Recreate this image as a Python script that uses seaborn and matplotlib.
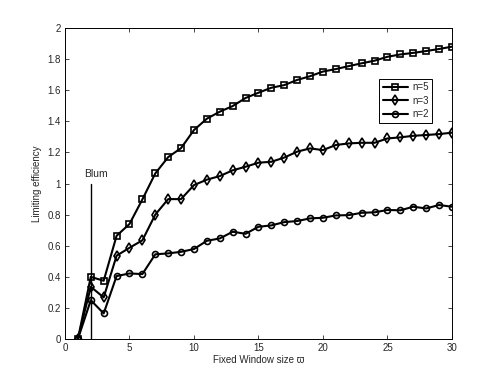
import matplotlib
matplotlib.use("Agg")
import matplotlib.pyplot as plt
import seaborn as sns
import pandas as pd

window = list(range(1, 31))
n5 = [0.0, 0.40, 0.375, 0.664, 0.74, 0.898, 1.065, 1.17, 1.228, 1.344,
      1.417, 1.462, 1.498, 1.55, 1.584, 1.616, 1.633, 1.666, 1.69, 1.72,
      1.736, 1.755, 1.773, 1.79, 1.815, 1.83, 1.84, 1.852, 1.865, 1.88]
n3 = [0.0, 0.336, 0.268, 0.536, 0.587, 0.635, 0.80, 0.90, 0.90, 0.99,
      1.025, 1.048, 1.085, 1.108, 1.134, 1.14, 1.167, 1.205, 1.226, 1.215,
      1.248, 1.258, 1.262, 1.262, 1.29, 1.297, 1.307, 1.312, 1.318, 1.327]
n2 = [0.0, 0.25, 0.165, 0.405, 0.422, 0.418, 0.545, 0.551, 0.561, 0.579,
      0.632, 0.647, 0.69, 0.677, 0.722, 0.731, 0.752, 0.759, 0.776, 0.78,
      0.795, 0.797, 0.812, 0.815, 0.83, 0.828, 0.851, 0.84, 0.862, 0.851]
series_labels = ["n=5", "n=3", "n=2"]
series_markers = ["s", "d", "o"]
blum_x = 2
blum_top = 1.0

sns.set_style("white")
plt.rcParams['font.family'] = ['Liberation Sans', 'DejaVu Sans']

fig = plt.figure(figsize=(4.98, 3.81), dpi=100)
ax = fig.add_axes([0.1305, 0.110, 0.777, 0.8165])

for vals, lab, mk in zip([n5, n3, n2], series_labels, series_markers):
    df = pd.DataFrame({"x": window, "y": vals})
    sns.lineplot(data=df, x="x", y="y", ax=ax, color="black", linewidth=1.5,
                 marker=mk, markersize=4.3 if mk != "d" else 5.0,
                 markerfacecolor="none", markeredgecolor="black",
                 markeredgewidth=1.2, label=lab)

ax.plot([blum_x, blum_x], [0, blum_top], color="black", linewidth=1.0)
ax.text(1.5, 1.03, "Blum", fontsize=7.5, ha="left", va="bottom")

ax.set_xlim(0, 30)
ax.set_ylim(0, 2)
ax.set_xticks(range(0, 31, 5))
ax.set_yticks([i * 0.2 for i in range(11)])
ax.set_yticklabels(["0", "0.2", "0.4", "0.6", "0.8", "1", "1.2", "1.4", "1.6", "1.8", "2"])
ax.tick_params(direction="in", length=3, width=0.6, labelsize=7, top=True, right=True,
               bottom=True, left=True, pad=3)
for s in ax.spines.values():
    s.set_color("black")
    s.set_linewidth(0.7)
ax.set_xlabel("Fixed Window size \u03d6", fontsize=7, labelpad=1)
ax.set_ylabel("Limiting efficiency", fontsize=7, labelpad=4)

leg = ax.legend(loc="upper right", bbox_to_anchor=(0.962, 0.853), fontsize=7,
                frameon=True, fancybox=False, edgecolor="black", framealpha=1,
                handlelength=2.6, borderpad=0.4, labelspacing=0.35, handletextpad=0.4)
leg.get_frame().set_linewidth(0.7)

fig.savefig("out.png", dpi=100)
